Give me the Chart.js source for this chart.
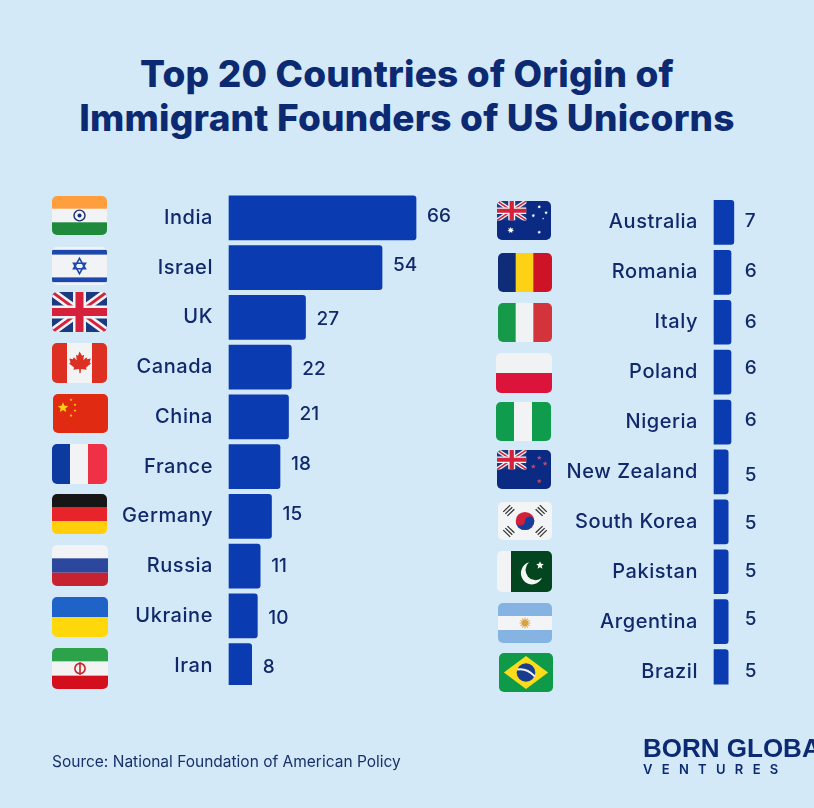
<!DOCTYPE html>
<html>
<head>
<meta charset="utf-8">
<title>Top 20 Countries of Origin of Immigrant Founders of US Unicorns</title>
<script src="https://cdn.jsdelivr.net/npm/chart.js@4"></script>
<style>
html, body { margin: 0; padding: 0; }
body { width: 814px; height: 808px; background: #d4e9f8; position: relative; overflow: hidden; font-family: Inter, sans-serif; color: #0e2a6e; }
h1 { position: absolute; left: 0; top: 52px; width: 814px; margin: 0; text-align: center; font-size: 37px; line-height: 44px; font-weight: 800; color: #0c2a72; letter-spacing: 0.2px; white-space: nowrap; }
canvas { position: absolute; top: 0; }
#left { left: 0; }
#right { left: 490px; }
.flag { position: absolute; border-radius: 5px; overflow: hidden; }
#source { position: absolute; left: 52px; top: 752px; font-size: 15.5px; font-weight: 400; color: #173069; white-space: nowrap; }
#logo1 { position: absolute; left: 643px; top: 734px; font-family: "Liberation Sans Narrow", "Liberation Sans", sans-serif; font-weight: 700; font-size: 26px; line-height: 28px; color: #0c2a72; white-space: nowrap; transform-origin: left top; }
#logo1 sup { font-size: 8px; font-weight: 400; vertical-align: 14px; line-height: 0; }
#logo2 { position: absolute; left: 643px; top: 761px; font-size: 13px; line-height: 16px; font-weight: 600; letter-spacing: 9.3px; color: #0c2a72; white-space: nowrap; }
</style>
</head>
<body>
<h1>Top 20 Countries of Origin of<br>Immigrant Founders of US Unicorns</h1>
<canvas id="left" width="490" height="808"></canvas>
<canvas id="right" width="324" height="808"></canvas>
<div id="source">Source: National Foundation of American Policy</div>
<div id="logo1">BORN GLOBAL<sup>TM</sup></div>
<div id="logo2">VENTURES</div>
<script>
var countriesLeft = ["India", "Israel", "UK", "Canada", "China", "France", "Germany", "Russia", "Ukraine", "Iran"];
var foundersLeft = [66, 54, 27, 22, 21, 18, 15, 11, 10, 8];
var countriesRight = ["Australia", "Romania", "Italy", "Poland", "Nigeria", "New Zealand", "South Korea", "Pakistan", "Argentina", "Brazil"];
var foundersRight = [7, 6, 6, 6, 6, 5, 5, 5, 5, 5];

var barColor = "#0a3bb0";
var labelColor = "#11296b";

// the value labels sit a little off the bar centre in the original
var nudgeLeft = [-2, -2, 2, 2, -3, -2, -2, 0, 2, 2];
var nudgeRight = [-1, -1, 0, -4, -2, 3, 1, 0, -2, 0];

// flag boxes: x, y, w, h
var boxesLeft = [[52,196,55,39],[52,247,55,38],[52,292,55,40],[52,343,55,40],[53,394,55,39],[52,444,55,40],[52,494,55,40],[52,545,56,41],[52,597,56,40],[52,648,56,41]];
var boxesRight = [[497,201,54,39],[498,253,54,39],[498,303,54,39],[496,353,56,40],[496,402,55,39],[497,450,54,39],[498,502,54,38],[497,551,55,41],[498,603,54,40],[499,653,54,39]];

function stripesH(a, b, c) {
    return '<rect width="55" height="14" fill="' + a + '"/><rect y="13" width="55" height="14" fill="' + b + '"/><rect y="27" width="55" height="13" fill="' + c + '"/>';
}
function stripesV(a, b, c) {
    return '<rect width="19" height="40" fill="' + a + '"/><rect x="18" width="19" height="40" fill="' + b + '"/><rect x="36" width="19" height="40" fill="' + c + '"/>';
}
function jack(w, h) {
    return '<svg x="0" y="0" width="' + w + '" height="' + h + '" viewBox="0 0 55 40" preserveAspectRatio="none">' +
        '<rect width="55" height="40" fill="#1b3a80"/>' +
        '<path d="M0 0L55 40M55 0L0 40" stroke="#f2f3f5" stroke-width="8"/>' +
        '<path d="M0 0L55 40M55 0L0 40" stroke="#d5213c" stroke-width="3"/>' +
        '<path d="M27.5 0V40M0 20H55" stroke="#f2f3f5" stroke-width="13"/>' +
        '<path d="M27.5 0V40M0 20H55" stroke="#d5213c" stroke-width="8"/></svg>';
}
function star(x, y, r, fill, n) {
    n = n || 5;
    var pts = [];
    for (var i = 0; i < n * 2; i++) {
        var rad = i % 2 ? r * 0.45 : r;
        var a = -Math.PI / 2 + i * Math.PI / n;
        pts.push((x + rad * Math.cos(a)).toFixed(1) + "," + (y + rad * Math.sin(a)).toFixed(1));
    }
    return '<polygon points="' + pts.join(" ") + '" fill="' + fill + '"/>';
}
function trigram(x, y, rot) {
    return '<g transform="translate(' + x + ' ' + y + ') rotate(' + rot + ')" stroke="#333" stroke-width="1.3">' +
        '<path d="M-5 -3H5M-5 0H5M-5 3H5"/></g>';
}

var flags = {
    India: stripesH("#ff9e3d", "#f1f3f5", "#1f8a3b") + '<circle cx="27.5" cy="20" r="5.5" fill="none" stroke="#1b2a78" stroke-width="1.4"/><circle cx="27.5" cy="20" r="2" fill="#1b2a78"/>',
    Israel: '<rect width="55" height="40" fill="#f1f3f5"/><rect y="3" width="55" height="5" fill="#1c47ae"/><rect y="32" width="55" height="5" fill="#1c47ae"/><path d="M27.5 12L33.5 23H21.5ZM27.5 28L33.5 17H21.5Z" fill="none" stroke="#1c47ae" stroke-width="1.6"/>',
    UK: jack(55, 40),
    Canada: '<rect width="55" height="40" fill="#dd3022"/><rect x="15" width="25" height="40" fill="#f1f3f5"/><path d="M27.5 8.5l2.6 4.3 2-1-.8 5.4 3-3 .9 2 3.6-.7-1.2 4 1.4.9-5 4.2.6 2.2-5.6-.7-.4 4.2h-1.1l-.4-4.2-5.6.7.6-2.2-5-4.2 1.4-.9-1.2-4 3.6.7.9-2 3 3-.8-5.4 2 1z" fill="#dd3022"/>',
    China: '<rect width="55" height="40" fill="#e02b12"/>' + star(10, 14, 5.5, "#fcd20f") + star(18, 6, 1.6, "#fcd20f") + star(22, 11, 1.6, "#fcd20f") + star(22, 17, 1.6, "#fcd20f") + star(18, 22, 1.6, "#fcd20f"),
    France: stripesV("#0c3a9e", "#f1f3f5", "#ee3144"),
    Germany: stripesH("#171616", "#e8242b", "#ffcf0c"),
    Russia: stripesH("#f1f3f6", "#2c479e", "#c72230"),
    Ukraine: '<rect width="55" height="21" fill="#1f63c9"/><rect y="20" width="55" height="20" fill="#ffd80c"/>',
    Iran: stripesH("#2ca34b", "#f3f3f3", "#d40f1d") + '<circle cx="27.5" cy="20" r="5" fill="none" stroke="#c8242c" stroke-width="1.6"/><path d="M27.5 14V26" stroke="#c8242c" stroke-width="1.6"/>',
    Australia: '<rect width="55" height="40" fill="#0b2a84"/>' + jack(30, 20) + star(14, 30, 3.6, "#fff", 7) + star(43, 6, 2, "#fff", 7) + star(37, 15, 2, "#fff", 7) + star(50, 12, 2, "#fff", 7) + star(43, 32, 2, "#fff", 7) + star(47, 18, 1.2, "#fff"),
    Romania: stripesV("#0e2c78", "#fdd116", "#cf1327"),
    Italy: stripesV("#169a4a", "#f1f2f4", "#d3343b"),
    Poland: '<rect width="55" height="20" fill="#f1f2f4"/><rect y="20" width="55" height="20" fill="#dc143c"/>',
    Nigeria: stripesV("#0f9d4d", "#f1f3f5", "#0f9d4d"),
    "New Zealand": '<rect width="55" height="40" fill="#0b2a84"/>' + jack(30, 20) + star(43, 8, 2.6, "#c2476b") + star(37, 17, 2.6, "#c2476b") + star(49, 14, 2.6, "#c2476b") + star(43, 32, 2.6, "#c2476b"),
    "South Korea": '<rect width="55" height="40" fill="#f3f4f6"/><circle cx="27.5" cy="20" r="9.5" fill="#d3203a"/><path d="M18 20a9.5 9.5 0 0 0 19 0a4.75 4.75 0 0 0-9.5 0a4.75 4.75 0 0 1-9.5 0z" fill="#143f9a"/>' + trigram(11, 9, -45) + trigram(44, 9, 45) + trigram(11, 31, 45) + trigram(44, 31, -45),
    Pakistan: '<rect width="55" height="40" fill="#f1f3f5"/><rect x="14" width="41" height="40" fill="#02451f"/><path d="M32 11a11 11 0 1 0 13 15a9.5 9.5 0 1 1-13-15z" fill="#f5f7f5"/>' + star(43, 14, 4, "#f5f7f5"),
    Argentina: stripesH("#85b4e2", "#f3f4f6", "#85b4e2") + star(27.5, 20, 6.5, "#d8a243", 12),
    Brazil: '<rect width="55" height="40" fill="#0f9a49"/><polygon points="27.5,3 50,20 27.5,37 5,20" fill="#fbdc1b"/><circle cx="27.5" cy="20" r="9.5" fill="#1a3c8e"/><path d="M18.5 17Q28 15 36.5 24" stroke="#f3f4f6" stroke-width="2" fill="none"/>'
};

function addFlags(names, boxes) {
    names.forEach(function (name, i) {
        var b = boxes[i];
        var el = document.createElement("div");
        el.className = "flag";
        el.style.cssText = "left:" + b[0] + "px;top:" + b[1] + "px;width:" + b[2] + "px;height:" + b[3] + "px";
        el.innerHTML = '<svg width="100%" height="100%" viewBox="0 0 55 40" preserveAspectRatio="none" style="display:block">' + flags[name] + "</svg>";
        document.body.appendChild(el);
    });
}
addFlags(countriesLeft, boxesLeft);
addFlags(countriesRight, boxesRight);

// prints the number next to each bar, through the chart's own scales
var valueLabels = {
    id: "valueLabels",
    beforeDraw: function (chart) {
        chart.ctx.letterSpacing = chart.options.plugins.valueLabels.tickSpacing;
    },
    afterDatasetsDraw: function (chart, args, opts) {
        var ctx = chart.ctx;
        var data = chart.data.datasets[0].data;
        ctx.save();
        ctx.letterSpacing = "0px";
        ctx.font = "500 19px Inter";
        ctx.fillStyle = labelColor;
        ctx.textBaseline = "middle";
        ctx.textAlign = "left";
        data.forEach(function (v, i) {
            var x = opts.fixedFrom ? chart.scales.x.getPixelForValue(opts.fixedFrom) + 11 : chart.scales.x.getPixelForValue(v) + 11;
            ctx.fillText(String(v), x, chart.scales.y.getPixelForValue(i) + opts.nudge[i]);
        });
        ctx.restore();
    }
};

function makeChart(id, labels, values, o) {
    return new Chart(document.getElementById(id), {
        type: "bar",
        plugins: [valueLabels],
        data: {
            labels: labels,
            datasets: [{
                data: values,
                backgroundColor: barColor,
                barThickness: 44,
                borderRadius: { topLeft: 0, bottomLeft: 0, topRight: 3, bottomRight: 3 },
                borderSkipped: false,
                clip: { left: false, top: false, right: false, bottom: o.clipBottom }
            }]
        },
        options: {
            indexAxis: "y",
            responsive: false,
            animation: false,
            layout: { padding: { top: o.top, bottom: o.bottom, right: o.right, left: 0 } },
            plugins: {
                legend: { display: false },
                tooltip: { enabled: false },
                valueLabels: { nudge: o.nudge, fixedFrom: o.fixedFrom, tickSpacing: "0.55px" }
            },
            scales: {
                x: { display: false, min: 0, max: o.max },
                y: {
                    afterFit: function (scale) { scale.width = o.axisWidth; },
                    border: { display: false },
                    grid: { display: false, drawTicks: false },
                    ticks: {
                        padding: 16,
                        autoSkip: false,
                        color: labelColor,
                        font: { family: "Inter", size: 20, weight: "500" }
                    }
                }
            }
        }
    });
}

document.fonts.load("500 20px Inter").then(function () {
    makeChart("left", countriesLeft, foundersLeft, { top: 193, bottom: 117.5, right: 34.3, max: 80, axisWidth: 229, clipBottom: -5.5, nudge: nudgeLeft });
    makeChart("right", countriesRight, foundersRight, { top: 197.5, bottom: 111.5, right: 43.3, max: 20, axisWidth: 224, clipBottom: -12, nudge: nudgeRight, fixedFrom: 7 });
});
</script>
</body>
</html>
